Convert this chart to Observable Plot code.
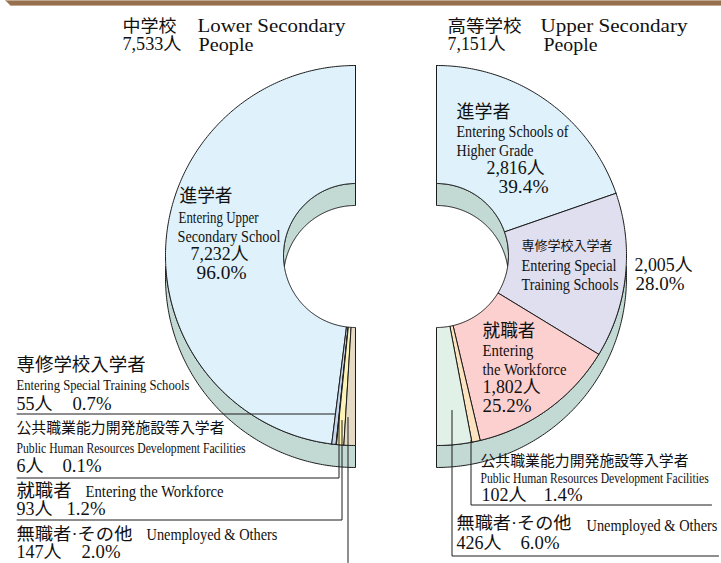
<!DOCTYPE html>
<html><head><meta charset="utf-8">
<script src="https://cdn.jsdelivr.net/npm/d3@7"></script>
<script src="https://cdn.jsdelivr.net/npm/@observablehq/plot@0.6"></script>
<style>html,body{margin:0;padding:0;background:#fff}svg{display:block}</style>
</head><body><div id="chart"></div>
<script>
// data
const lowerCategories = ["進学者","専修学校入学者","公共職業能力開発施設等入学者","就職者","無職者・その他"];
const lowerValues = [7232,55,6,93,147];
const lowerColors = ["#dff2fb","#c6d5ee","#c6d5ee","#fdf3b6","#e6dcc6"];
const upperCategories = ["進学者","専修学校入学者","就職者","公共職業能力開発施設等入学者","無職者・その他"];
const upperValues = [2816,2005,1802,102,426];
const upperColors = ["#dff2fb","#e0dff0","#fdd0d0","#fde4c0","#e2f1e7"];

// layout
const W = 721, H = 563, CY = 255, RO = 190, RI = 72, DEPTH = 22, WALL = "#c3d9d4", INK = "#1c1c1c";
const pies = [{cx:355,dir:-1,vals:lowerValues,cols:lowerColors,cats:lowerCategories,id:"L"},
              {cx:436,dir:1,vals:upperValues,cols:upperColors,cats:upperCategories,id:"U"}];
const pt = (p,r,deg,dy=0)=>{const a=deg*Math.PI/180;return {x:p.cx+p.dir*r*Math.sin(a),y:CY+dy-r*Math.cos(a)};};
const arc = (p,r,a0,a1,dy=0)=>{const n=Math.max(2,Math.ceil(Math.abs(a1-a0)*1.5));
  return d3.range(n+1).map(i=>pt(p,r,a0+(a1-a0)*i/n,dy));};

const polys = [];
const add = (id,fill,pts)=>pts.forEach((q,i)=>polys.push({...q,id,fill}));
for (const p of pies) {
  const t = 90+Math.asin(DEPTH/2/RO)*180/Math.PI, tb = 180-t;
  add(p.id+"oWall",WALL,[...arc(p,RO,tb,180,DEPTH),...arc(p,RO,180,t,0),arc(p,RO,tb,tb,DEPTH)[0]]);
  const ta = 90+Math.asin(DEPTH/2/RI)*180/Math.PI, tc = 180-ta;
  add(p.id+"iWall",WALL,[...arc(p,RI,0,ta,0),...arc(p,RI,tc,0,DEPTH),pt(p,RI,0,0)]);
  const total = d3.sum(p.vals);
  let c = 0;
  p.vals.forEach((v,i)=>{
    const a0=c/total*180, a1=(c+v)/total*180; c+=v;
    const ring=[...arc(p,RO,a0,a1),...arc(p,RI,a1,a0)];
    add(p.id+i,p.cols[i],[...ring,ring[0]]);
  });
}
const band = [{x:5,y:0},{x:W,y:0},{x:W,y:5},{x:10,y:5},{x:5,y:0}];

const leaders = [
  [[16.5,413.5],[335,413.5]],
  [[16.5,477.5],[338.5,477.5],[338.5,417]],
  [[16.5,519.5],[341.5,519.5],[341.5,420]],
  [[347.5,562],[347.5,417]],
  [[470.5,440],[470.5,504.5],[711,504.5]],
  [[451.5,410],[451.5,555.5],[718,555.5]]
].flatMap((l,i)=>l.map(([x,y])=>({x,y,i})));

// label, left x, right x, centre y, font size
const labels = [
 ["中学校",122,176,26,17],["Lower Secondary",197,345,25.5,18],["7,533人",122,181,44,18],["People",198,253,44.5,18],
 ["高等学校",447,521,26,17],["Upper Secondary",540,687,25.5,18],["7,151人",447,505,44,18],["People",543,597,44.5,18],
 ["進学者",179,232,196,18],["Entering Upper",178,258,217,16],["Secondary School",177,280,236,16],["7,232人",190,248,254,18],["96.0%",196,246,273,18],
 ["進学者",456,510,112,18],["Entering Schools of",456,568,131,16],["Higher Grade",456,533,150,16],["2,816人",486,544,168,18],["39.4%",498,548,187,18],
 ["専修学校入学者",521,612,245,13],["Entering Special",521,616,265,17],["Training Schools",521,618,284,17],["2,005人",634,692,264.5,18],["28.0%",635,684,283.5,18],
 ["就職者",482,535,331,18],["Entering",482,533,350,17],["the Workforce",482,566,369,17],["1,802人",482,540,387,18],["25.2%",482,531,406,18],
 ["公共職業能力開発施設等入学者",480,688,461,15],["Public Human Resources Development Facilities",480,708,478,15],["102人",481,526,495,18],["1.4%",543,582,495,18],
 ["無職者·その他",456,571,523,17],["Unemployed & Others",586,717,525,16],["426人",456,501,543,18],["6.0%",520,559,543,18],
 ["専修学校入学者",16,145,365,18],["Entering Special Training Schools",16,189,385,15],["55人",16,52,404,18],["0.7%",72,111,404,18],
 ["公共職業能力開発施設等入学者",16,224,428,15],["Public Human Resources Development Facilities",16,245,448,15],["6人",16,43,466,18],["0.1%",62,101,466,18],
 ["就職者",16,71,491,18],["Entering the Workforce",85,223,491,16],["93人",16,52,509,18],["1.2%",66,105,509,18],
 ["無職者·その他",16,132,534,17],["Unemployed & Others",146,277,534,16],["147人",16,61,552,18],["2.0%",81,120,552,18]
].map(([t,x0,x1,y,s])=>({t,x0,x1,y,s}));

const chart = Plot.plot({
  width:W,height:H,margin:0,
  style:{fontFamily:'"Liberation Serif","Noto Sans CJK JP",serif',background:"#fff",overflow:"visible"},
  x:{domain:[0,W],range:[0,W],axis:null},
  y:{domain:[0,H],range:[0,H],axis:null},
  color:{type:"identity"},
  marks:[
    Plot.line(band,{x:"x",y:"y",fill:"#96704f",stroke:"#b59a7c",strokeWidth:0.5}),
    Plot.line(polys,{x:"x",y:"y",z:"id",fill:"fill",stroke:INK,strokeWidth:1,curve:"linear",strokeLinejoin:"round"}),
    Plot.line(leaders,{x:"x",y:"y",z:"i",stroke:INK,strokeWidth:1,curve:"linear"}),
    Plot.text(labels,{x:"x0",y:"y",text:"t",textAnchor:"start",lineAnchor:"middle",fontSize:d=>d.s,fill:"#111",className:"lab"})
  ]
});
document.getElementById("chart").append(chart);
// fit each label to its measured width in the original
function fit(){
  d3.select(chart).selectAll("g.lab text").each(function(_,i){
    const d=labels[i], w=this.getComputedTextLength();
    const base=this.getAttribute("data-t")??(this.getAttribute("transform")||"");
    this.setAttribute("data-t",base);
    this.setAttribute("transform",`${base} scale(${(d.x1-d.x0)/w},1)`);
  });
}
fit();
if(document.fonts&&document.fonts.ready)document.fonts.ready.then(fit);
</script></body></html>
